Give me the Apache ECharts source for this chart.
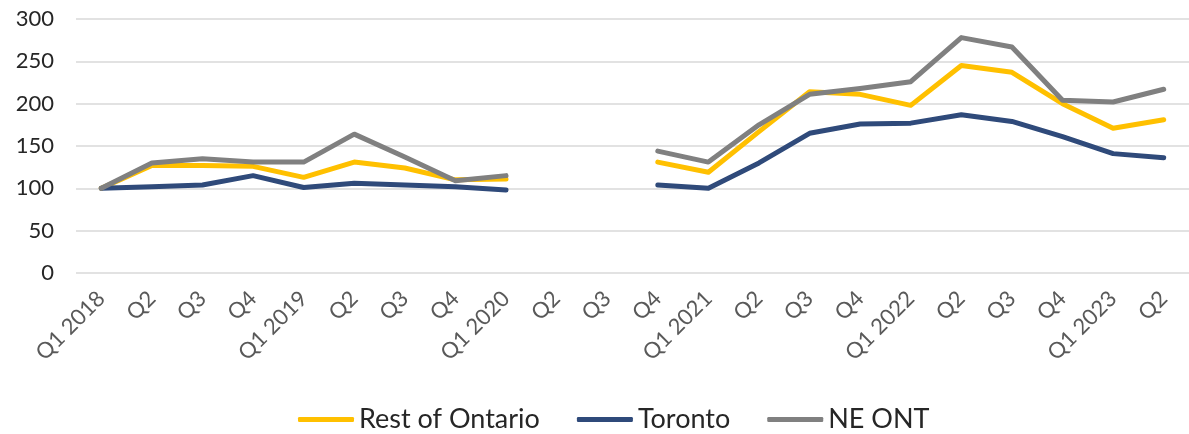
<!DOCTYPE html>
<html>
<head>
<meta charset="utf-8">
<script src="https://cdn.jsdelivr.net/npm/echarts@6/dist/echarts.min.js"></script>
<style>
	html, body { margin: 0; padding: 0; background: #fff; }
	#chart { width: 1189px; height: 434px; }
</style>
</head>
<body>
<div id="chart"></div>
<script>
var quarters = ['Q1 2018','Q2','Q3','Q4','Q1 2019','Q2','Q3','Q4','Q1 2020','Q2','Q3','Q4',
	'Q1 2021','Q2','Q3','Q4','Q1 2022','Q2','Q3','Q4','Q1 2023','Q2'];
var restOfOntario = [100,127,127,126,113,131,124,110,111,null,null,131,119,167,214,211,198,245,237,200,171,181];
var toronto = [100,102,104,115,101,106,104,102,98,null,null,104,100,130,165,176,177,187,179,161,141,136];
var neOnt = [100,130,135,131,131,164,137,109,115,null,null,144,131,175,211,218,226,278,267,204,202,217];
var yTicks = [0, 300, 50];

var chart = echarts.init(document.getElementById('chart'));
var font = 'Lato, "Open Sans", sans-serif';

function lineSeries(name, data, color) {
	return {
		name: name,
		type: 'line',
		data: data,
		symbol: 'none',
		connectNulls: false,
		lineStyle: { width: 5, color: color, cap: 'round', join: 'round' },
		itemStyle: { color: color }
	};
}

var option = {
	animation: false,
	grid: { left: 76, right: 0, top: 19, bottom: 161 },
	legend: {
		bottom: -4,
		left: 293,
		icon: 'roundRect',
		itemWidth: 56,
		itemHeight: 5,
		itemGap: 37,
		textStyle: { fontFamily: font, fontSize: 27, color: '#262626' },
		data: ['Rest of Ontario', 'Toronto', 'NE ONT']
	},
	xAxis: {
		type: 'category',
		data: quarters,
		boundaryGap: true,
		axisLine: { show: false },
		axisTick: { show: false },
		axisLabel: {
			interval: 0,
			rotate: 45,
			margin: 22,
			fontFamily: font,
			fontSize: 22,
			color: '#595959'
		}
	},
	yAxis: {
		type: 'value',
		min: yTicks[0],
		max: yTicks[1],
		interval: yTicks[2],
		axisLabel: { fontFamily: font, fontSize: 22, color: '#262626', margin: 22 },
		splitLine: { lineStyle: { color: '#d9d9d9', width: 1.5 } }
	},
	series: [
		lineSeries('Rest of Ontario', restOfOntario, '#FFC000'),
		lineSeries('Toronto', toronto, '#2F4A7A'),
		lineSeries('NE ONT', neOnt, '#808080')
	]
};
chart.setOption(option);
</script>
</body>
</html>
